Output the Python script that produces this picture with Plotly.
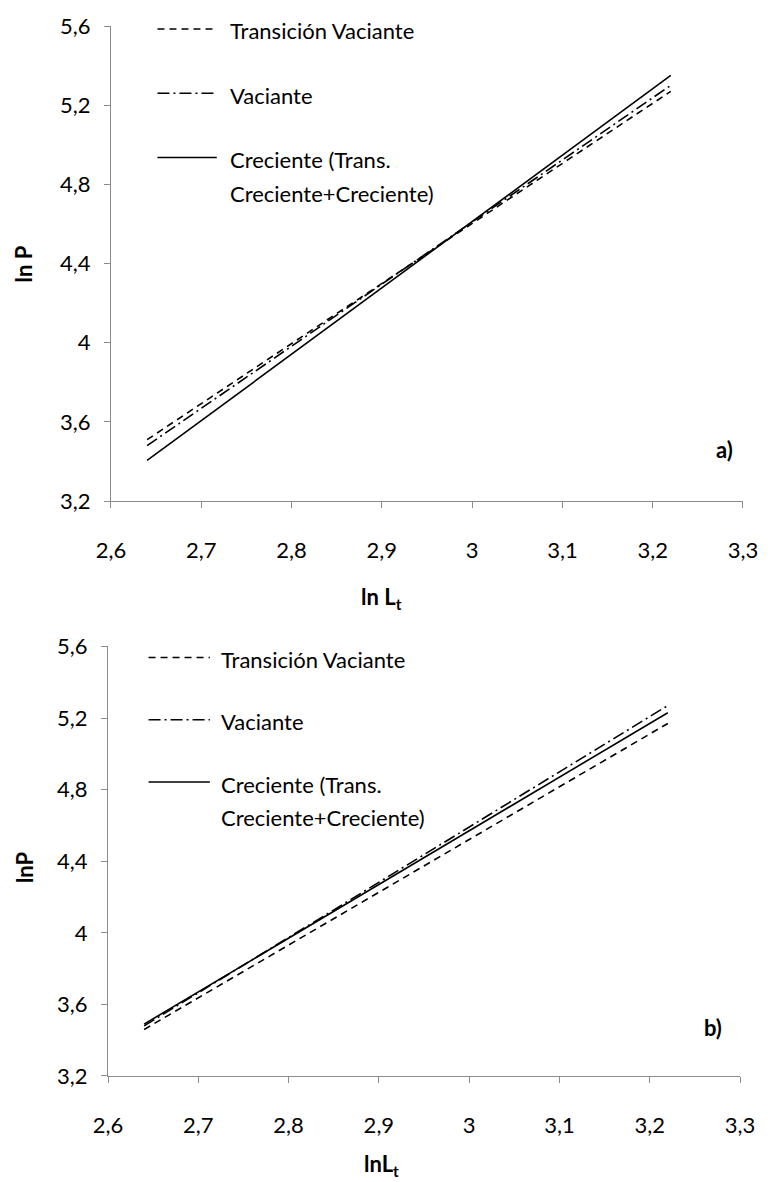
import plotly.graph_objects as go
from plotly.subplots import make_subplots

# ln Lt range covered by the fitted lines
ln_lt = [2.64, 3.22]

# panel a) ln P
a_transicion_vaciante = [3.51, 5.27]
a_vaciante = [3.48, 5.30]
a_creciente = [3.405, 5.35]

# panel b) ln P
b_transicion_vaciante = [3.46, 5.17]
b_vaciante = [3.48, 5.27]
b_creciente = [3.49, 5.23]

series_labels = [
    ["Transición Vaciante"],
    ["Vaciante"],
    ["Creciente (Trans.", "Creciente+Creciente)"],
]

x_ticks = [2.6, 2.7, 2.8, 2.9, 3.0, 3.1, 3.2, 3.3]
x_tick_text = ["2,6", "2,7", "2,8", "2,9", "3", "3,1", "3,2", "3,3"]
y_ticks = [3.2, 3.6, 4.0, 4.4, 4.8, 5.2, 5.6]
y_tick_text = ["3,2", "3,6", "4", "4,4", "4,8", "5,2", "5,6"]

W, H = 770, 1182
ML, MR, MT, MB = 108, 20, 15, 106
PW, PH = W - ML - MR, H - MT - MB

FONT = "Lato, 'Open Sans', sans-serif"
TXT = 22
AXIS_GREY = "#8c8c8c"
DASH = "7px,5px"
DASHDOT = "12px,4px,2px,4px"


def px_x(px):
    return (px - ML) / PW


def px_y(py):
    return (H - MB - py) / PH


fig = make_subplots(rows=2, cols=1)

styles = [DASH, DASHDOT, "solid"]
panels = [
    (1, [a_transicion_vaciante, a_vaciante, a_creciente]),
    (2, [b_transicion_vaciante, b_vaciante, b_creciente]),
]
for row, series in panels:
    for label, vals, dash in zip(series_labels, series, styles):
        fig.add_trace(
            go.Scatter(
                x=ln_lt, y=vals, mode="lines", name=" ".join(label),
                line=dict(color="black", width=1.6, dash=dash),
                showlegend=False, hoverinfo="skip",
            ),
            row=row, col=1,
        )

axis_common = dict(
    showgrid=False, zeroline=False, showline=True, linecolor=AXIS_GREY, linewidth=1.2,
    ticks="outside", ticklen=6, tickcolor=AXIS_GREY, tickwidth=1.2,
    tickfont=dict(family=FONT, size=TXT, color="black"),
)
xcommon = dict(axis_common, range=[2.6, 3.3], tickvals=x_ticks, ticktext=x_tick_text,
               ticklabelstandoff=23)
ycommon = dict(axis_common, range=[3.2, 5.6], tickvals=y_ticks, ticktext=y_tick_text,
               ticklabelstandoff=9)

fig.update_layout(
    xaxis=dict(xcommon, domain=[px_x(111), 1.0], anchor="y"),
    yaxis=dict(ycommon, domain=[px_y(495), px_y(15)], anchor="x"),
    xaxis2=dict(xcommon, domain=[0.0, px_x(747)], anchor="y2"),
    yaxis2=dict(ycommon, domain=[px_y(1076), px_y(642)], anchor="x2"),
)

shapes = []
annotations = []


def legend_block(x0, x1, xt, rows):
    for (yy, dash), lines in zip(rows, series_labels):
        shapes.append(dict(
            type="line", xref="paper", yref="paper",
            x0=px_x(x0), x1=px_x(x1), y0=px_y(yy), y1=px_y(yy),
            line=dict(color="black", width=1.5, dash=dash),
        ))
        for k, text in enumerate(lines):
            annotations.append(dict(
                xref="paper", yref="paper", x=px_x(xt), y=px_y(yy + 2 + 34 * k),
                xanchor="left", yanchor="middle", align="left", showarrow=False,
                text=text, font=dict(family=FONT, size=TXT, color="black"),
            ))


legend_block(158, 218, 229, [(18, DASH), (83, DASHDOT), (148, "solid")])
legend_block(149, 211, 220, [(653, DASH), (716, DASHDOT), (779, "solid")])

# axis titles and panel tags
title_font = dict(family=FONT, size=TXT, color="black")
annotations += [
    dict(xref="paper", yref="paper", x=px_x(385), y=px_y(593), text="<b>ln L<sub>t</sub></b>",
         showarrow=False, font=title_font, xanchor="center", yanchor="middle"),
    dict(xref="paper", yref="paper", x=px_x(385), y=px_y(1166), text="<b>lnL<sub>t</sub></b>",
         showarrow=False, font=title_font, xanchor="center", yanchor="middle"),
    dict(xref="paper", yref="paper", x=px_x(23), y=px_y(255), text="<b>ln P</b>",
         showarrow=False, font=title_font, textangle=-90, xanchor="center", yanchor="middle"),
    dict(xref="paper", yref="paper", x=px_x(23), y=px_y(865), text="<b>lnP</b>",
         showarrow=False, font=title_font, textangle=-90, xanchor="center", yanchor="middle"),
    dict(xref="x", yref="y", x=3.28, y=3.46, text="<b>a)</b>", showarrow=False,
         font=dict(family=FONT, size=TXT, color="black")),
    dict(xref="x2", yref="y2", x=3.27, y=3.47, text="<b>b)</b>", showarrow=False,
         font=dict(family=FONT, size=TXT, color="black")),
]

fig.update_layout(
    width=W, height=H,
    margin=dict(l=ML, r=MR, t=MT, b=MB),
    plot_bgcolor="white", paper_bgcolor="white",
    shapes=shapes, annotations=annotations,
    font=dict(family=FONT),
)

fig.write_html("out.html")
